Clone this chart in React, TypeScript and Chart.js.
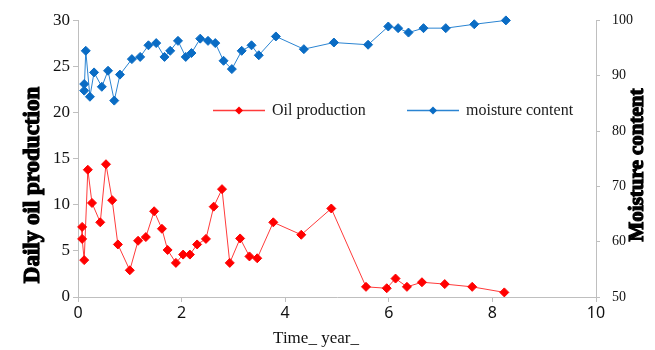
import React, { useEffect, useRef } from "react";
import { Chart, registerables } from "chart.js";

Chart.register(...registerables);

const oilYears = [0.08, 0.08, 0.12, 0.19, 0.27, 0.43, 0.54, 0.66, 0.77, 1.0, 1.16, 1.31, 1.47, 1.62, 1.73, 1.89, 2.03, 2.16, 2.3, 2.47, 2.62, 2.78, 2.93, 3.13, 3.31, 3.46, 3.77, 4.31, 4.89, 5.56, 5.96, 6.13, 6.35, 6.64, 7.08, 7.61, 8.23];
const oilValues = [7.6, 6.3, 4.0, 13.8, 10.2, 8.1, 14.4, 10.5, 5.7, 2.9, 6.1, 6.5, 9.3, 7.4, 5.1, 3.7, 4.6, 4.6, 5.7, 6.3, 9.8, 11.7, 3.7, 6.35, 4.4, 4.2, 8.1, 6.75, 9.6, 1.1, 0.95, 2.0, 1.1, 1.6, 1.4, 1.1, 0.5];

const moistureYears = [0.12, 0.12, 0.15, 0.23, 0.31, 0.46, 0.58, 0.7, 0.81, 1.04, 1.2, 1.36, 1.51, 1.67, 1.78, 1.93, 2.08, 2.19, 2.36, 2.51, 2.65, 2.81, 2.97, 3.16, 3.35, 3.49, 3.82, 4.36, 4.94, 5.6, 5.99, 6.18, 6.38, 6.67, 7.1, 7.65, 8.26];
const moistureValues = [88.5, 87.3, 94.5, 86.2, 90.6, 88.0, 90.9, 85.5, 90.2, 93.0, 93.4, 95.5, 95.9, 93.4, 94.5, 96.3, 93.4, 94.1, 96.7, 96.3, 95.9, 92.7, 91.2, 94.5, 95.5, 93.7, 97.1, 94.8, 96.0, 95.6, 98.9, 98.6, 97.8, 98.6, 98.6, 99.3, 100];

const seriesNames = ["Oil production", "moisture content"];
const leftTitle = "Daily oil production";
const rightTitle = "Moisture content";
const xTitle = "Time_ year_";

const RED_LINE = "#ff3b3b";
const RED_MARK = "#ff0000";
const BLUE_LINE = "#2a84d2";
const BLUE_MARK = "#0a6cc4";
const AXIS = "#bfbfbf";

const decorPlugin = {
  id: "decor",
  afterDraw(chart: any) {
    const ctx = chart.ctx as CanvasRenderingContext2D;
    const area = chart.chartArea;
    ctx.save();
    // legend
    const ly = area.top + 90;
    const drawItem = (x0: number, line: string, mark: string, label: string) => {
      ctx.strokeStyle = line;
      ctx.lineWidth = 1.5;
      ctx.beginPath();
      ctx.moveTo(x0, ly);
      ctx.lineTo(x0 + 52, ly);
      ctx.stroke();
      ctx.fillStyle = mark;
      ctx.beginPath();
      const cx = x0 + 26, r = 4;
      ctx.moveTo(cx, ly - r);
      ctx.lineTo(cx + r, ly);
      ctx.lineTo(cx, ly + r);
      ctx.lineTo(cx - r, ly);
      ctx.closePath();
      ctx.fill();
      ctx.fillStyle = "#1a1a1a";
      ctx.font = '16px "Liberation Serif"';
      ctx.textAlign = "left";
      ctx.textBaseline = "middle";
      ctx.fillText(label, x0 + 59, ly);
    };
    drawItem(area.left + 135, RED_LINE, RED_MARK, seriesNames[0]);
    drawItem(area.left + 329, BLUE_LINE, BLUE_MARK, seriesNames[1]);

    // axis titles
    ctx.fillStyle = "#000";
    ctx.strokeStyle = "#000";
    ctx.lineWidth = 1.2;
    ctx.textAlign = "center";
    ctx.textBaseline = "middle";
    ctx.save();
    ctx.translate(33, 185);
    ctx.rotate(-Math.PI / 2);
    ctx.font = 'bold 23px "Liberation Serif"';
    ctx.fillText(leftTitle, 0, 0);
    ctx.strokeText(leftTitle, 0, 0);
    ctx.restore();
    ctx.save();
    ctx.translate(638, 165);
    ctx.rotate(-Math.PI / 2);
    ctx.font = 'bold 21px "Liberation Serif"';
    ctx.fillText(rightTitle, 0, 0);
    ctx.strokeText(rightTitle, 0, 0);
    ctx.restore();
    ctx.font = '17px "Liberation Serif"';
    ctx.fillStyle = "#111";
    ctx.fillText(xTitle, 316, 339);
    ctx.restore();
  },
};

export default function App() {
  const ref = useRef<HTMLCanvasElement | null>(null);
  useEffect(() => {
    if (!ref.current) return;
    const chart = new Chart(ref.current, {
      type: "line",
      data: {
        datasets: [
          {
            label: seriesNames[0],
            data: oilYears.map((x, i) => ({ x, y: oilValues[i] })),
            borderColor: RED_LINE,
            backgroundColor: RED_MARK,
            borderWidth: 1,
            pointStyle: "rectRot",
            pointRadius: 4.5,
            pointBorderColor: RED_MARK,
            pointBackgroundColor: RED_MARK,
            pointBorderWidth: 1,
            yAxisID: "y",
            tension: 0,
            clip: false,
          },
          {
            label: seriesNames[1],
            data: moistureYears.map((x, i) => ({ x, y: moistureValues[i] })),
            borderColor: BLUE_LINE,
            backgroundColor: BLUE_MARK,
            borderWidth: 1,
            pointStyle: "rectRot",
            pointRadius: 4.5,
            pointBorderColor: BLUE_MARK,
            pointBackgroundColor: BLUE_MARK,
            pointBorderWidth: 1,
            yAxisID: "y1",
            tension: 0,
            clip: false,
          },
        ],
      },
      options: {
        animation: false,
        responsive: false,
        layout: { padding: { top: 20, left: 0, right: 0, bottom: 0 } },
        plugins: { legend: { display: false }, tooltip: { enabled: false } },
        scales: {
          x: {
            type: "linear",
            min: 0,
            max: 10,
            ticks: { stepSize: 2, color: "#111", font: { family: "Noto Sans", size: 16 }, padding: 2 },
            grid: { drawOnChartArea: false, color: AXIS, tickLength: 5 },
            border: { color: AXIS },
            afterFit: (s: any) => { s.height = 53; },
          },
          y: {
            position: "left",
            min: 0,
            max: 30,
            ticks: { stepSize: 5, color: "#111", font: { family: "Liberation Serif", size: 17 }, padding: 3 },
            grid: { drawOnChartArea: false, color: AXIS, tickLength: 5 },
            border: { color: AXIS },
            afterFit: (s: any) => { s.width = 78; },
          },
          y1: {
            position: "right",
            min: 50,
            max: 100,
            ticks: { stepSize: 10, color: "#111", font: { family: "Liberation Serif", size: 14 }, padding: 12 },
            grid: { drawOnChartArea: false, color: AXIS, tickLength: 4 },
            border: { color: AXIS },
            afterFit: (s: any) => { s.width = 59; },
          },
        },
      },
      plugins: [decorPlugin],
    } as any);
    return () => chart.destroy();
  }, []);
  return (
    <div style={{ position: "fixed", left: 0, top: 0, width: 655, height: 350, background: "#fff" }}>
      <canvas ref={ref} width={655} height={350} style={{ width: 655, height: 350 }} />
    </div>
  );
}
